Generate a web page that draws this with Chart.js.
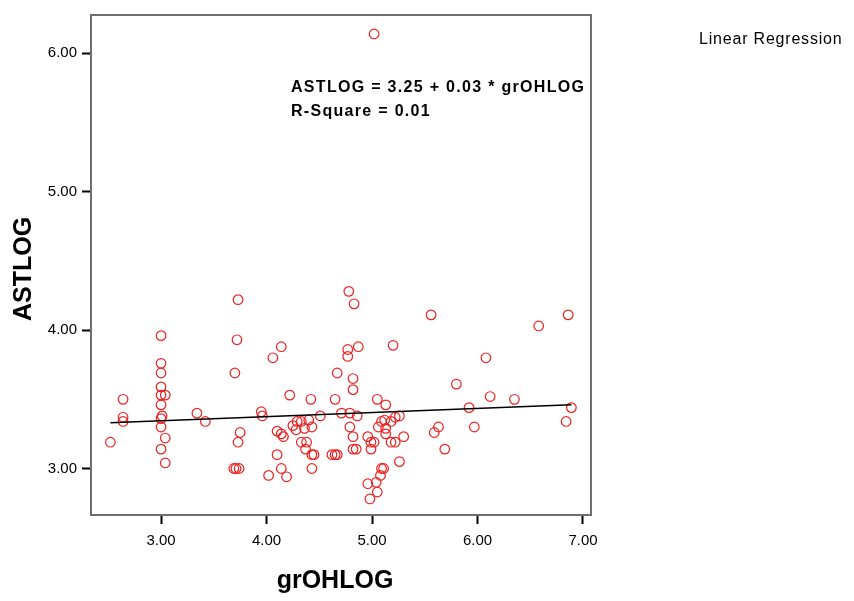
<!DOCTYPE html>
<html>
<head>
<meta charset="utf-8">
<script src="https://cdn.jsdelivr.net/npm/chart.js@4/dist/chart.umd.min.js"></script>
<style>
html,body{margin:0;padding:0;background:#fff;}
#wrap{width:854px;height:601px;position:relative;}
</style>
</head>
<body>
<div id="wrap"><canvas id="c" width="854" height="601"></canvas></div>
<script>
// Observed data (grOHLOG, ASTLOG)
const grOHLOG = [
  2.52, 2.64, 2.64, 2.64,
  3.00, 3.00, 3.00, 3.00, 3.04, 3.00, 3.00, 3.01, 3.00, 3.00, 3.04, 3.00, 3.04,
  3.34, 3.42,
  3.73, 3.72, 3.70, 3.75, 3.73, 3.69, 3.71, 3.74,
  3.95, 3.96, 4.02, 4.06, 4.10, 4.10, 4.14, 4.14, 4.16, 4.14, 4.19,
  4.22, 4.25, 4.28, 4.29, 4.33, 4.33, 4.36, 4.38, 4.37, 4.40, 4.42, 4.43, 4.43, 4.45, 4.43, 4.51,
  4.62, 4.65, 4.67, 4.65, 4.67, 4.71, 4.77, 4.77, 4.78, 4.79, 4.79, 4.82, 4.82, 4.82, 4.82, 4.85, 4.83, 4.86, 4.87,
  4.96, 4.99, 5.02, 4.99, 4.96, 4.98, 5.02, 5.04, 5.05, 5.05, 5.06, 5.08, 5.09, 5.09, 5.11, 5.12, 5.13, 5.13, 5.13,
  5.18, 5.18, 5.20, 5.22, 5.22, 5.26, 5.26, 5.30,
  5.56, 5.59, 5.63, 5.69, 5.80, 5.92, 5.97, 6.08, 6.12, 6.35, 6.58, 6.84, 6.86, 6.89
];
const ASTLOG = [
  3.19, 3.50, 3.37, 3.34,
  3.96, 3.76, 3.69, 3.59, 3.53, 3.53, 3.46, 3.38, 3.36, 3.30, 3.22, 3.14, 3.04,
  3.40, 3.34,
  4.22, 3.93, 3.69, 3.26, 3.19, 3.00, 3.00, 3.00,
  3.41, 3.38, 2.95, 3.80, 3.27, 3.10, 3.88, 3.25, 3.23, 3.00, 2.94,
  3.53, 3.31, 3.28, 3.34, 3.34, 3.19, 3.29, 3.19, 3.14, 3.35, 3.50, 3.30, 3.10, 3.10, 3.00, 3.38,
  3.10, 3.10, 3.10, 3.50, 3.69, 3.40, 3.86, 3.81, 4.28, 3.40, 3.30, 3.65, 3.57, 3.23, 3.14, 3.14, 4.19, 3.38, 3.88,
  3.23, 3.19, 3.19, 3.14, 2.89, 2.78, 6.14, 2.90, 2.83, 3.50, 3.30, 2.95, 3.34, 3.00, 3.00, 3.35, 3.46, 3.29, 3.25,
  3.34, 3.19, 3.89, 3.37, 3.19, 3.38, 3.05, 3.23,
  4.11, 3.26, 3.30, 3.14, 3.61, 3.44, 3.30, 3.80, 3.52, 3.50, 4.03, 3.34, 4.11, 3.44
];
// Fitted line end points, as drawn
const fitX = [2.52, 6.89];
const fitY = [3.33, 3.46];
const xTicks = [3, 4, 5, 6, 7];
const yTicks = [3, 4, 5, 6];
const xTitle = 'grOHLOG';
const yTitle = 'ASTLOG';
const equation = ['ASTLOG = 3.25 + 0.03 * grOHLOG', 'R-Square = 0.01'];
const legendText = 'Linear Regression';

const FONT = '"Liberation Sans", Arial, sans-serif';
const scatter = grOHLOG.map((x, i) => ({x: x, y: ASTLOG[i]}));
const fit = fitX.map((x, i) => ({x: x, y: fitY[i]}));

const decor = {
  id: 'decor',
  afterDraw(chart) {
    const ctx = chart.ctx;
    const a = chart.chartArea;
    ctx.save();
    ctx.strokeStyle = '#6e6e6e';
    ctx.lineWidth = 2;
    ctx.strokeRect(a.left, a.top, a.right - a.left, a.bottom - a.top);
    // equation text
    ctx.fillStyle = '#000';
    ctx.font = 'bold 16px ' + FONT;
    ctx.letterSpacing = '1.3px';
    ctx.textAlign = 'left';
    ctx.textBaseline = 'alphabetic';
    ctx.fillText(equation[0], 291, 92);
    ctx.fillText(equation[1], 291, 116);
    // legend-like title
    ctx.font = '16px ' + FONT;
    ctx.letterSpacing = '0.8px';
    ctx.fillText(legendText, 699, 44);
    ctx.letterSpacing = '0px';
    // axis titles
    ctx.font = 'bold 25px ' + FONT;
    ctx.textAlign = 'center';
    ctx.textBaseline = 'middle';
    ctx.fillText(xTitle, 335, 581);
    ctx.translate(24, 269);
    ctx.rotate(-Math.PI / 2);
    ctx.fillText(yTitle, 0, 0);
    ctx.restore();
  }
};

new Chart(document.getElementById('c'), {
  type: 'scatter',
  data: {
    datasets: [
      {
        type: 'line',
        data: fit,
        borderColor: '#000',
        borderWidth: 1.5,
        pointRadius: 0,
        fill: false,
        order: 0
      },
      {
        data: scatter,
        pointStyle: 'circle',
        pointRadius: 4.8,
        pointBorderWidth: 1.2,
        borderColor: '#f22',
        backgroundColor: 'rgba(0,0,0,0)',
        pointBackgroundColor: 'rgba(0,0,0,0)',
        pointBorderColor: '#f02020',
        order: 1
      }
    ]
  },
  options: {
    responsive: false,
    animation: false,
    devicePixelRatio: 1,
    layout: {padding: {left: 0, top: 15, right: 263, bottom: 0}},
    plugins: {legend: {display: false}, tooltip: {enabled: false}, title: {display: false}},
    scales: {
      x: {
        type: 'linear',
        min: 2.336, max: 7.076,
        afterBuildTicks: s => { s.ticks = xTicks.map(v => ({value: v})); },
        afterFit: s => { s.height = 86; },
        grid: {drawOnChartArea: false, drawTicks: true, tickLength: 9, tickWidth: 2, tickColor: '#000'},
        border: {display: false},
        ticks: {color: '#000', font: {family: FONT, size: 15}, padding: 8, maxRotation: 0,
                callback: v => Number(v).toFixed(2)}
      },
      y: {
        type: 'linear',
        min: 2.664, max: 6.277,
        afterBuildTicks: s => { s.ticks = yTicks.map(v => ({value: v})); },
        afterFit: s => { s.width = 91; },
        grid: {drawOnChartArea: false, drawTicks: true, tickLength: 9, tickWidth: 2, tickColor: '#000'},
        border: {display: false},
        ticks: {color: '#000', font: {family: FONT, size: 15}, padding: 5,
                callback: v => Number(v).toFixed(2)}
      }
    }
  },
  plugins: [decor]
});
</script>
</body>
</html>
